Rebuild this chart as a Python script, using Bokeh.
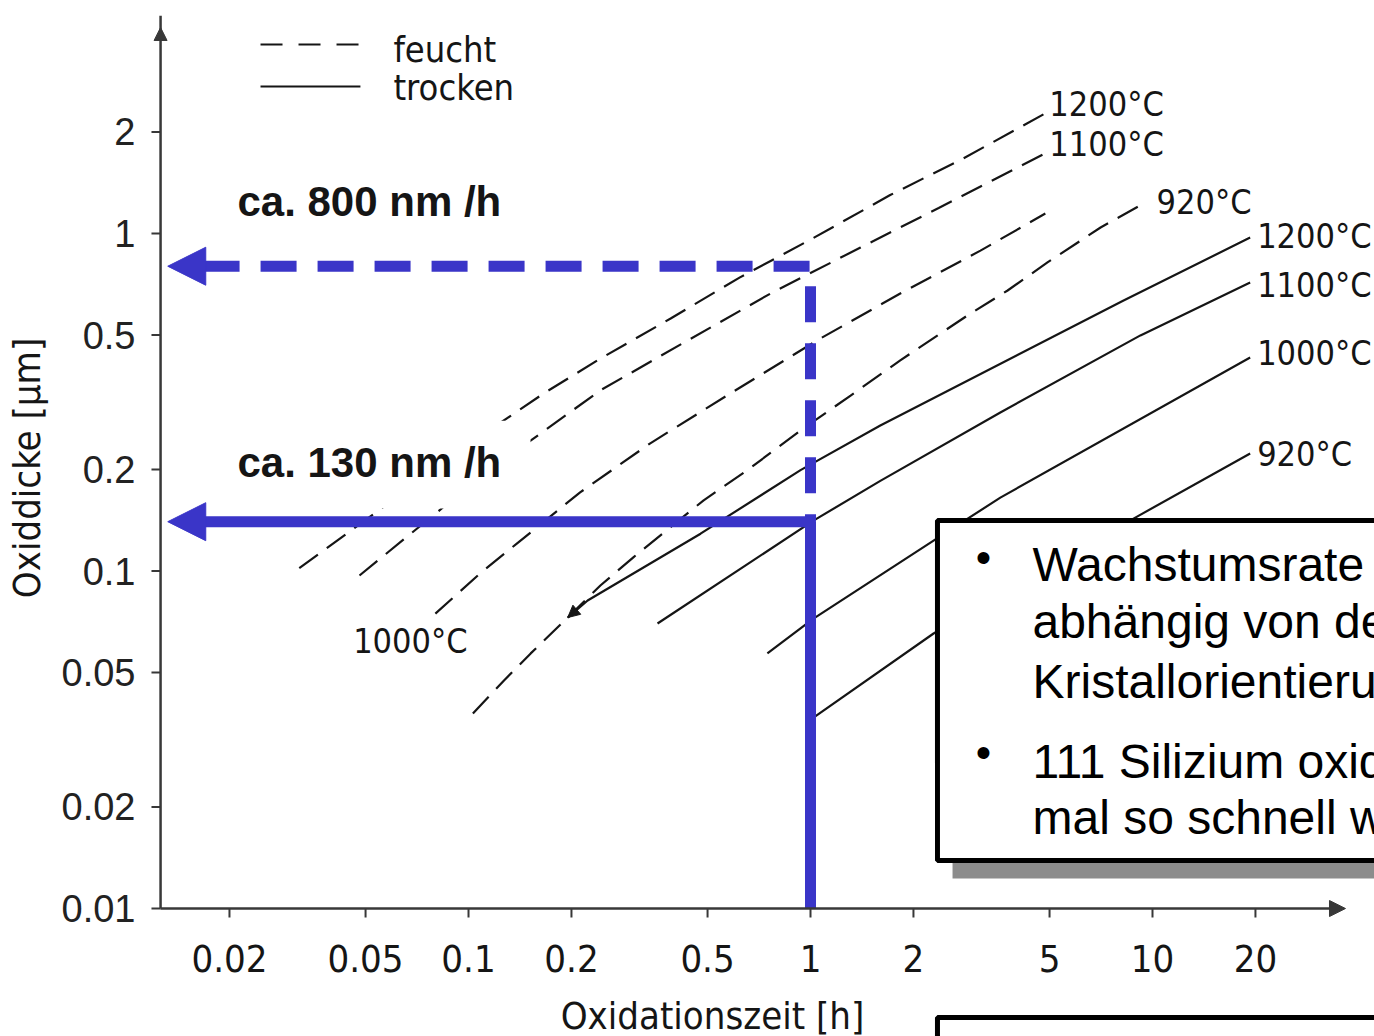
from bokeh.plotting import figure
from bokeh.layouts import column
from bokeh.models import (Range1d, FixedTicker, Label, BoxAnnotation, Arrow,
                          NormalHead, ColumnDataSource, CustomJSTickFormatter)
from bokeh.core.properties import value
from bokeh.embed import file_html
from bokeh.resources import INLINE

# ---------------- data (time in h, oxide in µm) ----------------
x_ticks = [0.02, 0.05, 0.1, 0.2, 0.5, 1, 2, 5, 10, 20]
x_tick_labels = ["0.02", "0.05", "0.1", "0.2", "0.5", "1", "2", "5", "10", "20"]
y_ticks = [0.01, 0.02, 0.05, 0.1, 0.2, 0.5, 1, 2]
y_tick_labels = ["0.01", "0.02", "0.05", "0.1", "0.2", "0.5", "1", "2"]

# wet ("feucht") oxidation curves
wet_1200_t = [0.032, 0.058, 0.124, 0.166, 0.243, 0.39, 0.62, 1.02, 1.71, 2.8, 4.86]
wet_1200_d = [0.102, 0.158, 0.275, 0.336, 0.426, 0.56, 0.74, 0.97, 1.30, 1.67, 2.27]
wet_1100_t = [0.048, 0.084, 0.149, 0.243, 0.437, 0.764, 1.40, 2.37, 4.86]
wet_1100_d = [0.097, 0.154, 0.240, 0.343, 0.482, 0.664, 0.909, 1.19, 1.73]
wet_1000_t = [0.080, 0.108, 0.139, 0.212, 0.340, 0.583, 1.07, 1.83, 3.14, 4.86]
wet_1000_d = [0.0748, 0.0983, 0.121, 0.171, 0.239, 0.336, 0.489, 0.664, 0.890, 1.146]
wet_920_t = [0.103, 0.127, 0.152, 0.195, 0.243, 0.304, 0.487, 0.654, 0.935, 1.31,
             1.83, 2.88, 3.77, 4.93, 7.05, 9.54]
wet_920_d = [0.0378, 0.0474, 0.057, 0.0728, 0.0906, 0.110, 0.162, 0.199, 0.261, 0.331,
             0.421, 0.572, 0.678, 0.821, 1.042, 1.236]

# dry ("trocken") oxidation curves
dry_1200_t = [0.195, 0.223, 0.477, 0.935, 1.60, 8.23, 19.3]
dry_1200_d = [0.0728, 0.0818, 0.129, 0.199, 0.270, 0.633, 0.973]
dry_1100_t = [0.357, 1.02, 1.60, 3.59, 9.22, 19.3]
dry_1100_d = [0.0699, 0.141, 0.185, 0.295, 0.499, 0.716]
dry_1000_t = [0.748, 1.02, 2.29, 3.59, 19.3]
dry_1000_d = [0.057, 0.0723, 0.123, 0.165, 0.429]
dry_920_t = [1.02, 2.29, 8.80, 19.3]
dry_920_d = [0.0368, 0.0653, 0.143, 0.223]

# blue read-off lines: 1 h oxidation
read_time = 1.0
wet_thickness = 0.8
dry_thickness = 0.14

# ---------------- styling ----------------
NARROW = "DejaVu Sans Condensed"
SANS = "Liberation Sans"
INK = "#151515"
AXIS = "#383838"
BLUE = "#3a35c8"
CURVE_DASH = "23 11"

X0, X1 = 0.011595, 44.58          # frame extent (a little left of the drawn axis)
Y0, Y1 = 0.009215, 4.4257         # frame extent (a little below the drawn axis)
AX_T, AX_D = 0.012576, 0.01       # where the drawn axes cross

p = figure(width=1374, height=992, x_axis_type="log", y_axis_type="log",
           x_range=Range1d(X0, X1), y_range=Range1d(Y0, Y1),
           output_backend="svg", toolbar_location=None,
           min_border_left=148, min_border_right=0, min_border_top=15,
           min_border_bottom=72, outline_line_color=None,
           background_fill_color="white", border_fill_color="white")
p.grid.visible = False

fmt_code = """
let best = -1, err = 1e9;
for (let i = 0; i < tick_vals.length; i++) {
  const e = Math.abs(Math.log(tick_vals[i]) - Math.log(tick));
  if (e < err) { err = e; best = i; }
}
return (best >= 0 && err < 1e-6) ? tick_labs[best] : '';
"""

xa = p.xaxis[0]
xa.ticker = FixedTicker(ticks=x_ticks, minor_ticks=[])
xa.formatter = CustomJSTickFormatter(args=dict(tick_vals=x_ticks, tick_labs=x_tick_labels), code=fmt_code)
xa.axis_line_color = None
xa.major_tick_line_color = None
xa.minor_tick_line_color = None
xa.major_tick_out = 0
xa.major_label_text_font = NARROW
xa.major_label_text_font_size = "38px"
xa.major_label_text_color = INK
xa.major_label_standoff = 24

ya = p.yaxis[0]
ya.ticker = FixedTicker(ticks=y_ticks, minor_ticks=[])
ya.formatter = CustomJSTickFormatter(args=dict(tick_vals=y_ticks, tick_labs=y_tick_labels), code=fmt_code)
ya.axis_line_color = None
ya.major_tick_line_color = None
ya.minor_tick_line_color = None
ya.major_tick_out = 0
ya.major_label_text_font = SANS
ya.major_label_text_font_size = "38px"
ya.major_label_text_color = "#222222"
ya.major_label_standoff = 13
ya.axis_label = "Oxiddicke [µm]"
ya.axis_label_text_font = NARROW
ya.axis_label_text_font_size = "38px"
ya.axis_label_text_font_style = "normal"
ya.axis_label_text_color = INK
ya.axis_label_standoff = 10

# drawn axes with arrows and tick marks
p.segment(x0=x_ticks, y0=[AX_D] * len(x_ticks), x1=x_ticks, y1=[0.00940] * len(x_ticks),
          line_color=AXIS, line_width=2)
p.segment(x0=[AX_T] * len(y_ticks), y0=y_ticks, x1=[0.01183] * len(y_ticks), y1=y_ticks,
          line_color=AXIS, line_width=2)
p.line([AX_T, AX_T], [AX_D, Y1], line_color=AXIS, line_width=2.5)
p.add_layout(Arrow(end=NormalHead(size=16, fill_color=AXIS, line_color=AXIS),
                   x_start=AX_T, y_start=AX_D, x_end=36.67, y_end=AX_D,
                   line_color=AXIS, line_width=2.5))
p.add_layout(Arrow(end=NormalHead(size=13, fill_color=AXIS, line_color=AXIS),
                   x_start=AX_T, y_start=3.3, x_end=AX_T, y_end=4.078, line_alpha=0))

# ---------------- curves ----------------
wet = [(wet_1200_t, wet_1200_d), (wet_1100_t, wet_1100_d),
       (wet_1000_t, wet_1000_d), (wet_920_t, wet_920_d)]
dry = [(dry_1200_t, dry_1200_d), (dry_1100_t, dry_1100_d),
       (dry_1000_t, dry_1000_d), (dry_920_t, dry_920_d)]
for t, d in wet:
    p.line(t, d, line_color=INK, line_width=2.2, line_dash=CURVE_DASH)
for t, d in dry:
    p.line(t, d, line_color=INK, line_width=2.2)

# start mark of dry 1200 curve
p.add_layout(Arrow(end=NormalHead(size=12, fill_color=INK, line_color=INK),
                   x_start=dry_1200_t[1], y_start=dry_1200_d[1],
                   x_end=dry_1200_t[0], y_end=dry_1200_d[0], line_alpha=0))

# temperature labels at curve ends
lab_src = ColumnDataSource(dict(
    x=[wet_1200_t[-1], wet_1100_t[-1], wet_920_t[-1],
       dry_1200_t[-1], dry_1100_t[-1], dry_1000_t[-1], dry_920_t[-1]],
    y=[wet_1200_d[-1], wet_1100_d[-1], wet_920_d[-1],
       dry_1200_d[-1], dry_1100_d[-1], dry_1000_d[-1], dry_920_d[-1]],
    text=["1200°C", "1100°C", "920°C", "1200°C", "1100°C", "1000°C", "920°C"],
    xo=[4, 4, 11, 7, 7, 7, 7],
    yo=[-9, -9, 0, -2, 3, -5, 1],
))
p.text(x="x", y="y", text="text", x_offset="xo", y_offset="yo", source=lab_src,
       text_font=value(NARROW), text_font_size="34px", text_color=INK,
       text_align="left", text_baseline="middle")
p.text(x=[wet_1000_t[0]], y=[wet_1000_d[0]], text=["1000°C"], x_offset=-25, y_offset=27,
       text_font=value(NARROW), text_font_size="34px", text_color=INK,
       text_align="center", text_baseline="middle")

# legend
p.line([0.02465, 0.0483], [3.631, 3.631], line_color=INK, line_width=2.2, line_dash="22 16")
p.line([0.02465, 0.0483], [2.727, 2.727], line_color=INK, line_width=2.2)
p.text(x=[0.0603, 0.0603], y=[3.51, 2.708], text=["feucht", "trocken"],
       text_font=value(NARROW), text_font_size="36px", text_color=INK,
       text_align="left", text_baseline="middle")

# ---------------- blue read-off lines ----------------
ARROW_TIP = 0.0132
ARROW_BASE = 0.0168
p.line([ARROW_BASE, read_time, read_time], [wet_thickness, wet_thickness, dry_thickness],
       line_color=BLUE, line_width=11, line_dash="36 21")
p.line([ARROW_BASE, read_time, read_time], [dry_thickness, dry_thickness, AX_D],
       line_color=BLUE, line_width=11)
for yy in (wet_thickness, dry_thickness):
    p.add_layout(Arrow(end=NormalHead(size=38, fill_color=BLUE, line_color=BLUE, line_width=1),
                       x_start=ARROW_BASE * 1.3, y_start=yy, x_end=ARROW_TIP, y_end=yy,
                       line_alpha=0))

# white background behind the lower rate label
p.add_layout(BoxAnnotation(left=0.01784, right=0.1518, bottom=0.1532, top=0.279,
                           fill_color="white", fill_alpha=1, line_alpha=0))

def add_label(text, x, y, size, font=SANS, style="normal", align="left",
              baseline="middle", color=INK):
    p.add_layout(Label(x=x, y=y, text=text, text_font=font, text_font_size=size,
                       text_font_style=style, text_align=align, text_baseline=baseline,
                       text_color=color))

add_label("ca. 800 nm /h", 0.0211, 1.244, "42px", style="bold")
add_label("ca. 130 nm /h", 0.0211, 0.2097, "42px", style="bold")

# ---------------- slide text box ----------------
p.add_layout(BoxAnnotation(left=2.602, right=60, top=0.1249, bottom=0.01227,
                           fill_color="#8c8c8c", fill_alpha=1, line_alpha=0))
p.add_layout(BoxAnnotation(left=2.351, right=60, top=0.1411, bottom=0.01388,
                           fill_color="white", fill_alpha=1, line_color="black",
                           line_width=5, line_alpha=1))
add_label("•", 3.205, 0.1096, "44px", align="center", color="black")
add_label("•", 3.205, 0.0290, "44px", align="center", color="black")
box_lines = ["Wachstumsrate ist", "abhängig von der", "Kristallorientierung",
             "111 Silizium oxidiert", "mal so schnell wie"]
box_y = [0.1049, 0.07063, 0.04721, 0.02735, 0.01867]
for txt, yy in zip(box_lines, box_y):
    add_label(txt, 4.457, yy, "48px", color="black")

# ---------------- bottom strip: x-axis title and the next slide box ----------------
p2 = figure(width=1374, height=44, x_axis_type="log", x_range=p.x_range,
            y_range=Range1d(44, 0), output_backend="svg", toolbar_location=None,
            x_axis_location=None, y_axis_location=None,
            min_border_left=148, min_border_right=0, min_border_top=0, min_border_bottom=0,
            outline_line_color=None, background_fill_color="white",
            border_fill_color="white")
p2.grid.visible = False
p2.text(x=[0.5169], y=[23], text=["Oxidationszeit [h]"], text_font=value(NARROW),
        text_font_size="38px", text_color=INK, text_align="center", text_baseline="middle")
p2.quad(left=[2.351], right=[60], top=[25], bottom=[70], fill_color="white",
        line_color="black", line_width=5)

layout = column(p, p2, spacing=0)
open("out.html", "w").write(file_html(layout, INLINE))
